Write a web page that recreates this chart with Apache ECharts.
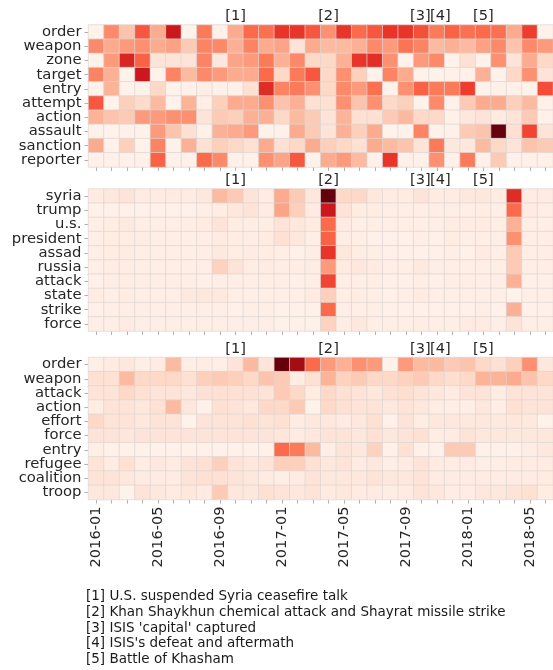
<!DOCTYPE html>
<html>
<head>
<meta charset="utf-8">
<script src="https://cdn.jsdelivr.net/npm/echarts@6.0.0/dist/echarts.min.js"></script>
<style>
  html, body { margin: 0; padding: 0; background: #fff; }
  #main { width: 553px; height: 670px; }
</style>
</head>
<body>
<div id="main"></div>
<script>
// months on the x axis
var months = [
  '2016-01','2016-02','2016-03','2016-04','2016-05','2016-06','2016-07','2016-08','2016-09','2016-10',
  '2016-11','2016-12','2017-01','2017-02','2017-03','2017-04','2017-05','2017-06','2017-07','2017-08',
  '2017-09','2017-10','2017-11','2017-12','2018-01','2018-02','2018-03','2018-04','2018-05','2018-06'
];

// event markers shown above each panel
var eventMonths = ['2016-10', '2017-04', '2017-10', '2017-11', '2018-02'];
var eventTags = ['[1]', '[2]', '[3]', '[4]', '[5]'];
var eventNotes = [
  "[1] U.S. suspended Syria ceasefire talk",
  "[2] Khan Shaykhun chemical attack and Shayrat missile strike",
  "[3] ISIS 'capital' captured",
  "[4] ISIS's defeat and aftermath",
  "[5] Battle of Khasham"
];

// panel 1
var topWords = ['order', 'weapon', 'zone', 'target', 'entry', 'attempt', 'action', 'assault', 'sanction', 'reporter'];
var topValues = [
  [0.02,0.4,0.22,0.55,0.3,0.75,0.02,0.45,0.03,0.3,0.5,0.48,0.65,0.65,0.55,0.38,0.65,0.5,0.55,0.65,0.65,0.57,0.45,0.52,0.48,0.5,0.48,0.3,0.62,0.02],
  [0.4,0.3,0.35,0.38,0.3,0.33,0.2,0.42,0.4,0.28,0.42,0.3,0.32,0.1,0.3,0.25,0.25,0.28,0.4,0.35,0.47,0.42,0.25,0.28,0.25,0.33,0.4,0.22,0.4,0.35],
  [0.02,0.35,0.7,0.52,0.1,0.1,0.1,0.42,0.08,0.32,0.35,0.45,0.28,0.4,0.15,0.15,0.28,0.65,0.67,0.38,0.02,0.35,0.4,0.02,0.12,0.02,0.38,0.1,0.3,0.15],
  [0.42,0.28,0.02,0.75,0.02,0.42,0.25,0.4,0.35,0.3,0.3,0.5,0.15,0.45,0.55,0.15,0.38,0.18,0.02,0.42,0.3,0.02,0.02,0.03,0.03,0.28,0.02,0.15,0.38,0.1],
  [0.02,0.27,0.02,0.02,0.15,0.02,0.03,0.04,0.03,0.03,0.12,0.68,0.42,0.45,0.38,0.15,0.4,0.35,0.48,0.02,0.38,0.52,0.45,0.45,0.62,0.02,0.03,0.03,0.02,0.58],
  [0.55,0.02,0.18,0.14,0.25,0.02,0.27,0.04,0.18,0.3,0.3,0.38,0.22,0.28,0.12,0.12,0.38,0.22,0.38,0.15,0.18,0.02,0.4,0.03,0.2,0.3,0.3,0.18,0.25,0.03],
  [0.27,0.22,0.2,0.35,0.35,0.38,0.38,0.1,0.2,0.18,0.28,0.28,0.15,0.25,0.2,0.1,0.27,0.12,0.12,0.2,0.25,0.15,0.15,0.03,0.08,0.1,0.06,0.1,0.2,0.03],
  [0.03,0.02,0.03,0.02,0.35,0.22,0.12,0.03,0.28,0.3,0.35,0.02,0.03,0.3,0.2,0.1,0.28,0.18,0.3,0.02,0.02,0.42,0.03,0.03,0.2,0.22,1.0,0.12,0.6,0.1],
  [0.3,0.02,0.18,0.02,0.42,0.02,0.28,0.12,0.18,0.15,0.12,0.3,0.12,0.15,0.3,0.18,0.15,0.12,0.3,0.25,0.22,0.1,0.45,0.08,0.08,0.25,0.15,0.1,0.22,0.2],
  [0.03,0.03,0.03,0.03,0.52,0.03,0.03,0.5,0.4,0.03,0.03,0.38,0.32,0.55,0.02,0.3,0.35,0.25,0.03,0.65,0.03,0.03,0.38,0.03,0.45,0.03,0.2,0.03,0.03,0.03]
];

// panel 2
var midWords = ['syria', 'trump', 'u.s.', 'president', 'assad', 'russia', 'attack', 'state', 'strike', 'force'];
var midValues = [
  [0.06,0.08,0.1,0.06,0.06,0.06,0.06,0.08,0.25,0.2,0.1,0.06,0.3,0.2,0.08,1.0,0.15,0.15,0.08,0.06,0.06,0.1,0.06,0.06,0.08,0.08,0.06,0.68,0.06,0.06],
  [0.03,0.03,0.03,0.03,0.03,0.03,0.03,0.04,0.05,0.08,0.1,0.06,0.32,0.18,0.06,0.75,0.1,0.05,0.05,0.04,0.04,0.04,0.04,0.04,0.04,0.05,0.04,0.5,0.06,0.04],
  [0.04,0.05,0.07,0.04,0.04,0.04,0.05,0.06,0.1,0.05,0.05,0.05,0.1,0.08,0.06,0.5,0.06,0.04,0.04,0.04,0.04,0.04,0.04,0.05,0.05,0.06,0.04,0.28,0.04,0.04],
  [0.04,0.05,0.05,0.05,0.04,0.04,0.04,0.04,0.06,0.05,0.05,0.06,0.12,0.08,0.04,0.52,0.05,0.04,0.03,0.03,0.03,0.04,0.03,0.05,0.04,0.04,0.04,0.38,0.04,0.04],
  [0.04,0.05,0.06,0.04,0.04,0.04,0.04,0.04,0.07,0.05,0.06,0.05,0.04,0.03,0.05,0.65,0.08,0.05,0.04,0.03,0.03,0.03,0.03,0.04,0.03,0.06,0.04,0.2,0.04,0.04],
  [0.04,0.05,0.05,0.04,0.04,0.04,0.04,0.04,0.17,0.1,0.05,0.06,0.05,0.05,0.05,0.35,0.06,0.08,0.06,0.04,0.04,0.07,0.04,0.04,0.04,0.04,0.04,0.2,0.04,0.04],
  [0.03,0.04,0.05,0.04,0.04,0.04,0.04,0.03,0.04,0.04,0.04,0.04,0.04,0.03,0.04,0.6,0.04,0.04,0.04,0.03,0.03,0.04,0.03,0.04,0.04,0.04,0.04,0.28,0.03,0.03],
  [0.05,0.04,0.05,0.04,0.04,0.04,0.07,0.08,0.07,0.04,0.04,0.04,0.04,0.04,0.06,0.18,0.04,0.05,0.04,0.03,0.04,0.06,0.04,0.04,0.04,0.04,0.04,0.02,0.04,0.04],
  [0.03,0.04,0.04,0.04,0.04,0.04,0.04,0.04,0.04,0.03,0.04,0.04,0.03,0.03,0.03,0.5,0.04,0.04,0.04,0.03,0.03,0.03,0.03,0.03,0.03,0.04,0.03,0.28,0.03,0.03],
  [0.04,0.04,0.06,0.04,0.04,0.04,0.04,0.04,0.04,0.04,0.04,0.04,0.03,0.03,0.03,0.17,0.05,0.08,0.04,0.04,0.04,0.05,0.04,0.04,0.06,0.06,0.04,0.1,0.04,0.04]
];

// panel 3
var botWords = ['order', 'weapon', 'attack', 'action', 'effort', 'force', 'entry', 'refugee', 'coalition', 'troop'];
var botValues = [
  [0.04,0.06,0.08,0.04,0.06,0.25,0.04,0.05,0.04,0.1,0.25,0.1,1.0,0.88,0.5,0.35,0.28,0.38,0.35,0.02,0.35,0.25,0.25,0.2,0.22,0.15,0.12,0.18,0.38,0.08],
  [0.12,0.12,0.25,0.15,0.15,0.15,0.12,0.18,0.2,0.18,0.15,0.22,0.2,0.05,0.12,0.27,0.17,0.2,0.15,0.15,0.17,0.2,0.15,0.13,0.15,0.27,0.27,0.3,0.22,0.15],
  [0.1,0.1,0.15,0.12,0.1,0.1,0.08,0.12,0.12,0.12,0.12,0.1,0.2,0.15,0.05,0.15,0.12,0.1,0.08,0.12,0.13,0.1,0.08,0.06,0.1,0.1,0.05,0.1,0.1,0.1],
  [0.05,0.1,0.1,0.08,0.12,0.25,0.08,0.03,0.12,0.1,0.08,0.15,0.15,0.2,0.02,0.15,0.12,0.1,0.1,0.08,0.1,0.08,0.05,0.04,0.04,0.08,0.04,0.12,0.1,0.1],
  [0.15,0.1,0.1,0.08,0.1,0.1,0.02,0.1,0.1,0.1,0.12,0.1,0.12,0.06,0.08,0.08,0.06,0.08,0.12,0.03,0.1,0.05,0.08,0.08,0.07,0.08,0.07,0.08,0.07,0.02],
  [0.1,0.1,0.09,0.1,0.1,0.1,0.1,0.1,0.1,0.1,0.1,0.1,0.09,0.06,0.08,0.1,0.1,0.08,0.12,0.08,0.1,0.12,0.05,0.06,0.1,0.08,0.08,0.08,0.08,0.08],
  [0.04,0.03,0.03,0.03,0.03,0.03,0.03,0.03,0.03,0.03,0.03,0.03,0.5,0.45,0.25,0.04,0.1,0.08,0.17,0.03,0.12,0.03,0.03,0.2,0.2,0.03,0.03,0.03,0.05,0.08],
  [0.1,0.06,0.12,0.05,0.08,0.06,0.1,0.12,0.18,0.1,0.08,0.1,0.18,0.18,0.12,0.08,0.1,0.06,0.08,0.04,0.06,0.1,0.06,0.06,0.06,0.04,0.04,0.06,0.06,0.06],
  [0.1,0.1,0.08,0.06,0.06,0.06,0.1,0.12,0.12,0.1,0.08,0.06,0.04,0.06,0.1,0.08,0.08,0.08,0.1,0.08,0.08,0.1,0.06,0.06,0.06,0.06,0.05,0.06,0.06,0.06],
  [0.08,0.08,0.02,0.1,0.08,0.06,0.08,0.06,0.2,0.08,0.08,0.12,0.1,0.08,0.1,0.06,0.08,0.06,0.06,0.05,0.06,0.1,0.08,0.05,0.05,0.08,0.08,0.1,0.12,0.05]
];

// matplotlib "Reds"
var reds = ['#fff5f0', '#fee0d2', '#fcbba1', '#fc9272', '#fb6a4a', '#ef3b2c', '#cb181d', '#a50f15', '#67000d'];

var FONT = 'DejaVu Sans';
var TEXT = '#262626';
var panels = [
  { words: topWords, values: topValues, top: 25 },
  { words: midWords, values: midValues, top: 189 },
  { words: botWords, values: botValues, top: 357.5 }
];

function toCells(values) {
  var out = [];
  values.forEach(function (row, r) {
    row.forEach(function (v, c) { out.push([c, r, v]); });
  });
  return out;
}

var grid = [], xAxis = [], yAxis = [], series = [], visualMap = [];
panels.forEach(function (p, i) {
  grid.push({ left: 88.5, top: p.top, width: 472.5, height: 142 });
  // bottom axis: ticks everywhere, dates only on the last panel
  xAxis.push({
    type: 'category', gridIndex: i, data: months, position: 'bottom',
    axisLine: { show: false },
    axisTick: { show: true, interval: 0, alignWithLabel: true, length: 4, lineStyle: { color: '#b0b0b0' } },
    axisLabel: {
      show: i === 2, interval: 3, rotate: 90, margin: 7,
      fontSize: 14.6, fontFamily: FONT, color: TEXT
    },
    splitLine: { show: false }
  });
  // top axis: event tags
  xAxis.push({
    type: 'category', gridIndex: i, data: months, position: 'top',
    axisLine: { show: false }, axisTick: { show: false },
    axisLabel: {
      interval: 0, margin: 1, fontSize: 14.6, fontFamily: FONT, color: TEXT,
      formatter: function (m) {
        var k = eventMonths.indexOf(m);
        if (k < 0) return '';
        if (k === 2) return '{l|' + eventTags[k] + '}';
        if (k === 3) return '{r|' + eventTags[k] + '}';
        return eventTags[k];
      },
      rich: {
        l: { fontSize: 14.6, fontFamily: FONT, color: TEXT, padding: [0, 2, 0, 0] },
        r: { fontSize: 14.6, fontFamily: FONT, color: TEXT, padding: [0, 0, 0, 7] }
      }
    }
  });
  yAxis.push({
    type: 'category', gridIndex: i, data: p.words, inverse: true,
    axisLine: { show: false },
    axisTick: { show: true, alignWithLabel: true, length: 4, lineStyle: { color: '#b0b0b0' } },
    axisLabel: { interval: 0, margin: 7, fontSize: 14.8, fontFamily: FONT, color: TEXT },
    splitLine: { show: false }
  });
  series.push({
    type: 'heatmap', xAxisIndex: i * 2, yAxisIndex: i,
    data: toCells(p.values),
    itemStyle: { borderColor: '#dcd5d2', borderWidth: 0.7 },
    emphasis: { disabled: true }
  });
  visualMap.push({
    show: false, seriesIndex: i, min: 0, max: 1, dimension: 2,
    inRange: { color: reds }
  });
});

var myChart = echarts.init(document.getElementById('main'));
myChart.setOption({
  backgroundColor: '#fff',
  animation: false,
  grid: grid,
  xAxis: xAxis,
  yAxis: yAxis,
  visualMap: visualMap,
  series: series,
  graphic: [{
    type: 'text', left: 86, top: 589,
    style: {
      text: eventNotes.join('\n'),
      font: '13.5px "DejaVu Sans"',
      lineHeight: 15.7,
      fill: '#1a1a1a'
    }
  }]
});
</script>
</body>
</html>
